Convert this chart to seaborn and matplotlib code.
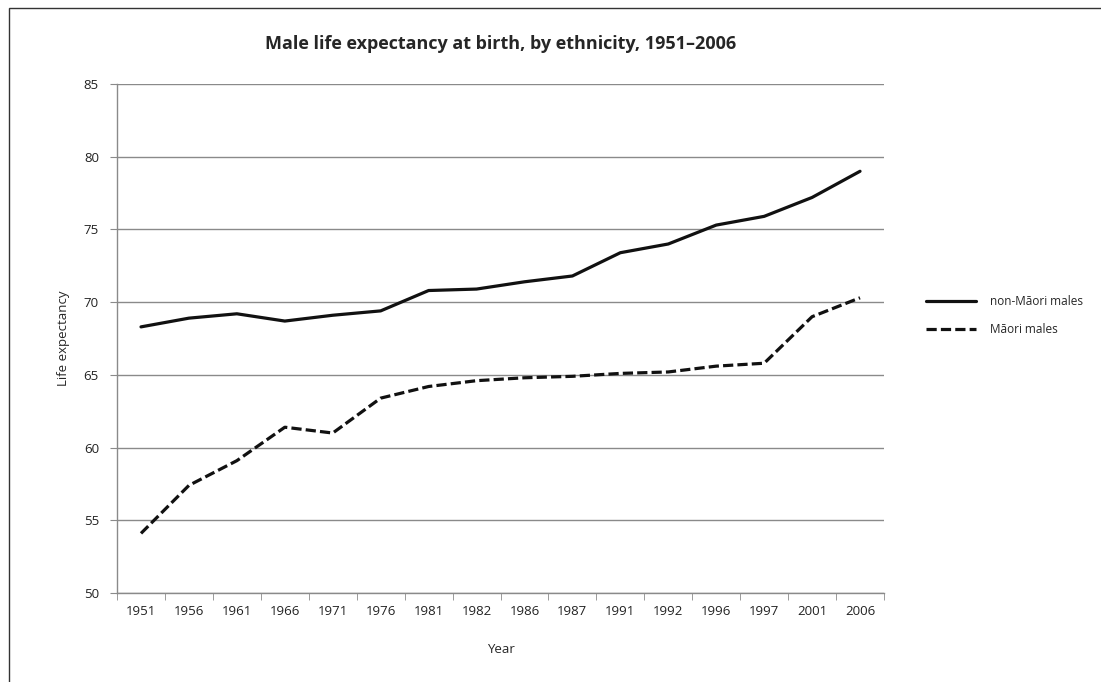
import matplotlib.pyplot as plt
import matplotlib.patches as mpatches
import pandas as pd
import seaborn as sns

# DATA
years = ['1951', '1956', '1961', '1966', '1971', '1976', '1981', '1982',
         '1986', '1987', '1991', '1992', '1996', '1997', '2001', '2006']
non_maori = [68.3, 68.9, 69.2, 68.7, 69.1, 69.4, 70.8, 70.9,
             71.4, 71.8, 73.4, 74.0, 75.3, 75.9, 77.2, 79.0]
maori = [54.1, 57.4, 59.1, 61.4, 61.0, 63.4, 64.2, 64.6,
         64.8, 64.9, 65.1, 65.2, 65.6, 65.8, 69.0, 70.3]
series_names = ['non-M\u0101ori males', 'M\u0101ori males']

df = pd.DataFrame({
    'Year': years * 2,
    'Life expectancy': non_maori + maori,
    'series': [series_names[0]] * len(years) + [series_names[1]] * len(years),
})

sns.set_style('white')
plt.rcParams['font.family'] = ['Open Sans', 'DejaVu Sans']

fig = plt.figure(figsize=(11.01, 6.82), dpi=100)
ax = fig.add_axes([0.1063, 0.1305, 0.6966, 0.7463])

sns.lineplot(data=df, x='Year', y='Life expectancy', hue='series', style='series',
             palette=['#111111', '#111111'], dashes=[(None, None), (3.2, 1.3)],
             linewidth=2.3, ax=ax, sort=False)

ax.set_ylim(50, 85)
ax.set_yticks(range(50, 90, 5))
ax.set_xlim(-0.5, len(years) - 0.5)
ax.yaxis.grid(True, color='#8a8a8a', linewidth=1)
ax.set_axisbelow(True)

for side in ['top', 'right']:
    ax.spines[side].set_visible(False)
for side in ['left', 'bottom']:
    ax.spines[side].set_color('#8a8a8a')
    ax.spines[side].set_linewidth(1)

# tick marks sit between the categories on x
ax.set_xticks([i - 0.5 for i in range(len(years) + 1)], minor=True)
ax.tick_params(axis='x', which='major', length=0, pad=9, labelsize=9.5, colors='#222222')
ax.tick_params(axis='x', which='minor', length=5, color='#8a8a8a', direction='out', bottom=True)
ax.tick_params(axis='y', which='major', length=5, color='#8a8a8a', direction='out', left=True,
               labelsize=9.5, labelcolor='#222222', pad=8)

ax.set_xlabel('Year', fontsize=9.5, labelpad=18)
ax.set_ylabel('Life expectancy', fontsize=9.5, labelpad=10)
ax.set_title('Male life expectancy at birth, by ethnicity, 1951\u20132006',
             fontsize=13, fontweight='bold', pad=25)

leg = ax.legend(loc='center left', bbox_to_anchor=(1.041, 0.545), frameon=False,
                fontsize=8.5, handlelength=4.2, labelspacing=1.3, handletextpad=1.2)
for line in leg.get_lines():
    line.set_linewidth(2.3)

# outer frame of the reference
fig.patches.append(mpatches.Rectangle((9 / 1101, -0.1), 1.2, 1 - 8 / 682 + 0.1,
                                      transform=fig.transFigure, fill=False,
                                      edgecolor='#333333', linewidth=1))

fig.savefig('out.png', dpi=100)
